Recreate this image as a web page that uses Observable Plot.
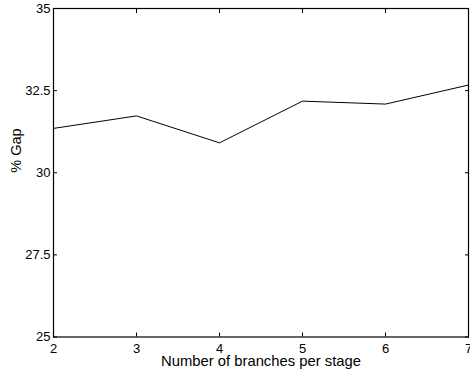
<!DOCTYPE html>
<html><head><meta charset="utf-8">
<script src="https://cdn.jsdelivr.net/npm/d3@7"></script>
<script src="https://cdn.jsdelivr.net/npm/@observablehq/plot@0.6"></script>
<style>
html,body{margin:0;padding:0;background:#fff;}
</style>
</head><body>
<div id="chart"></div>
<script>
const branches = [2, 3, 4, 5, 6, 7];
const gap = [31.35, 31.73, 30.91, 32.18, 32.09, 32.67];
const xTicks = [2, 3, 4, 5, 6, 7];
const yTicks = [25, 27.5, 30, 32.5, 35];
const xLabel = "Number of branches per stage";
const yLabel = "% Gap";

const data = branches.map((b, i) => ({branches: b, gap: gap[i]}));

const chart = Plot.plot({
  width: 470,
  height: 375,
  marginLeft: 53,
  marginTop: 8,
  marginRight: 2,
  marginBottom: 38.5,
  style: {fontFamily: "'Liberation Sans', Arial, Helvetica, sans-serif", fontSize: "13px", color: "#000", background: "#fff"},
  x: {domain: [2, 7]},
  y: {domain: [25, 35]},
  marks: [
    Plot.axisX({anchor: "bottom", ticks: xTicks, tickSize: -4, tickPadding: 10.5, tickFormat: d => String(d), label: null}),
    Plot.axisX({anchor: "top", ticks: xTicks, tickSize: -4, tickFormat: () => "", label: null}),
    Plot.axisY({anchor: "left", ticks: yTicks, tickSize: -4, tickPadding: 7, tickFormat: d => String(d), label: null}),
    Plot.axisY({anchor: "right", ticks: yTicks, tickSize: -4, tickFormat: () => "", label: null}),
    Plot.frame({stroke: "#000", strokeWidth: 1.2}),
    Plot.line(data, {x: "branches", y: "gap", stroke: "#000", strokeWidth: 1}),
    Plot.text([xLabel], {frameAnchor: "bottom", dy: 18, lineAnchor: "top", fontSize: 14.8}),
    Plot.text([yLabel], {frameAnchor: "left", dx: -43, rotate: -90, lineAnchor: "top", fontSize: 14.5})
  ]
});
document.getElementById("chart").appendChild(chart);
</script>
</body></html>
